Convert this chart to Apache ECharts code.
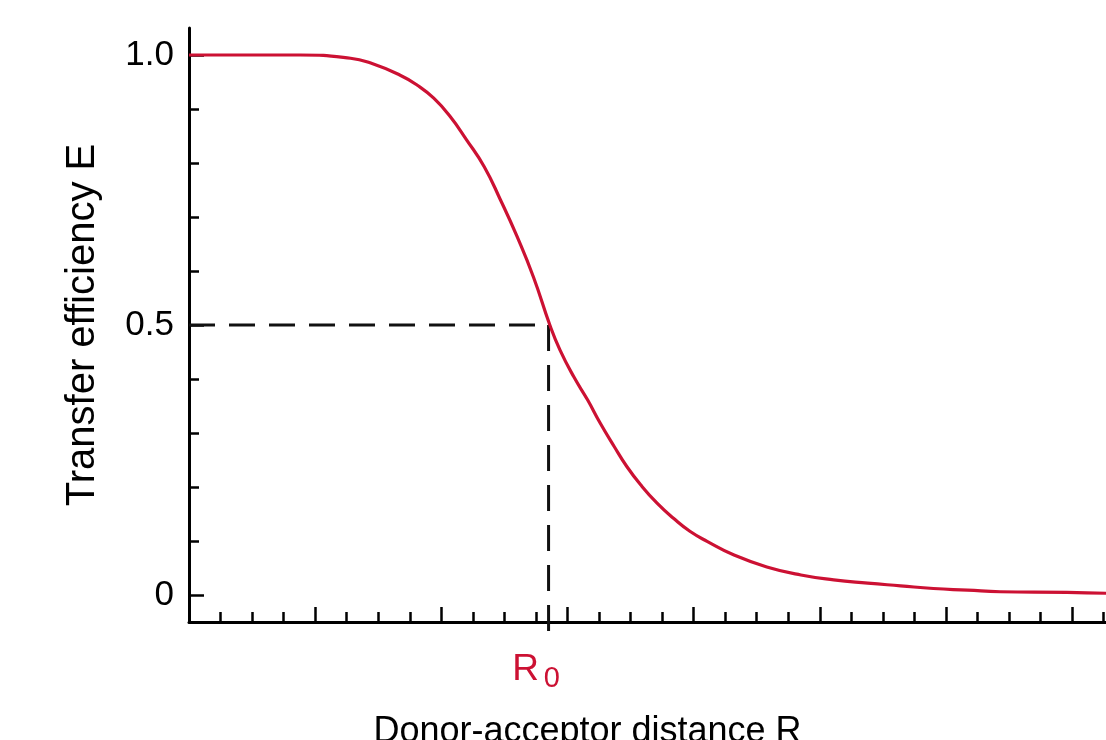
<!DOCTYPE html>
<html>
<head>
<meta charset="utf-8">
<script src="https://cdn.jsdelivr.net/npm/echarts@6/dist/echarts.min.js"></script>
<style>
html,body{margin:0;padding:0;background:#ffffff;}
#chart{width:1106px;height:740px;}
</style>
</head>
<body>
<div id="chart"></div>
<script>
// Donor-acceptor distance R (in major tick units) and transfer efficiency E
const distanceR = [0, 0.88, 1.28, 1.44, 1.67, 1.81, 1.94, 2.07, 2.20, 2.34, 2.47, 2.60, 2.73, 2.86, 2.94, 3.05, 3.16, 3.26, 3.37, 3.47, 3.58, 3.71, 3.84, 3.97, 4.11, 4.32, 4.58, 4.85, 5.11, 5.38, 5.64, 5.90, 6.17, 6.43, 6.96, 7.3];
const efficiencyE = [1.0, 1.0, 0.994, 0.985, 0.963, 0.944, 0.920, 0.886, 0.843, 0.793, 0.731, 0.664, 0.589, 0.5, 0.454, 0.404, 0.361, 0.318, 0.275, 0.238, 0.204, 0.170, 0.142, 0.118, 0.099, 0.074, 0.052, 0.037, 0.028, 0.022, 0.017, 0.012, 0.009, 0.006, 0.005, 0.003];
const R0 = 2.85;
const halfEfficiency = 0.5;
const dropBelowAxis = -0.07;

const yMajorTicks = [0, 0.5, 1.0];
const yTickLabels = ['0', '0.5', '1.0'];
const yMinorTicks = [0.1, 0.2, 0.3, 0.4, 0.6, 0.7, 0.8, 0.9];
const xMajorTicks = [1, 2, 3, 4, 5, 6, 7];
const xMinorTicks = [0.25, 0.5, 0.75, 1.25, 1.5, 1.75, 2.25, 2.5, 2.75, 3.25, 3.5, 3.75, 4.25, 4.5, 4.75, 5.25, 5.5, 5.75, 6.25, 6.5, 6.75, 7.25];

const xTitle = 'Donor-acceptor distance R';
const yTitle = 'Transfer efficiency E';

const FONT = '"Liberation Sans", Arial, Helvetica, sans-serif';
const RED = '#cc1133';

const curve = distanceR.map((r, i) => [r, efficiencyE[i]]);

const chart = echarts.init(document.getElementById('chart'), null, {renderer: 'canvas'});

const baseX = {type: 'value', min: 0, max: 7.3, position: 'bottom', splitLine: {show: false}};
const baseY = {type: 'value', min: -0.05, max: 1.05, position: 'left', splitLine: {show: false}};

chart.setOption({
  animation: false,
  backgroundColor: '#ffffff',
  grid: {left: 189, right: -4, top: 28, bottom: 118, containLabel: false, outerBoundsMode: 'none'},
  xAxis: [
    Object.assign({}, baseX, {
      axisLine: {show: true, onZero: false, lineStyle: {color: '#000', width: 3}},
      axisTick: {show: true, inside: true, length: 10, customValues: xMinorTicks, lineStyle: {color: '#000', width: 2.5}},
      axisLabel: {show: false}
    }),
    Object.assign({}, baseX, {
      axisLine: {show: false, onZero: false},
      axisTick: {show: true, inside: true, length: 15, customValues: xMajorTicks, lineStyle: {color: '#000', width: 2.5}},
      axisLabel: {
        show: true,
        customValues: [R0],
        margin: 29,
        padding: [0, 25, 0, 0],
        formatter: function () { return '{r|R}{s|0}'; },
        rich: {
          r: {fontFamily: FONT, fontSize: 37, color: RED, verticalAlign: 'top'},
          s: {fontFamily: FONT, fontSize: 29, color: RED, verticalAlign: 'top', padding: [13, 0, 0, 5]}
        }
      },
      name: xTitle,
      nameLocation: 'middle',
      nameGap: 92,
      nameTextStyle: {fontFamily: FONT, fontSize: 36, color: '#000', padding: [0, 124, 0, 0]}
    })
  ],
  yAxis: [
    Object.assign({}, baseY, {
      axisLine: {show: true, onZero: false, lineStyle: {color: '#000', width: 3}},
      axisTick: {show: true, inside: true, length: 10, customValues: yMinorTicks, lineStyle: {color: '#000', width: 2.5}},
      axisLabel: {show: false}
    }),
    Object.assign({}, baseY, {
      axisLine: {show: false, onZero: false},
      axisTick: {show: true, inside: true, length: 15, customValues: yMajorTicks, lineStyle: {color: '#000', width: 2.5}},
      axisLabel: {
        show: true,
        customValues: yMajorTicks,
        margin: 15,
        fontFamily: FONT,
        fontSize: 35,
        color: '#000',
        formatter: function (v) { return yTickLabels[yMajorTicks.indexOf(v)]; }
      },
      name: yTitle,
      nameLocation: 'middle',
      nameGap: 86,
      nameTextStyle: {fontFamily: FONT, fontSize: 40, color: '#000'}
    })
  ],
  series: [
    {
      name: 'h-guide', type: 'line', xAxisIndex: 0, yAxisIndex: 0,
      data: [[0, halfEfficiency], [R0, halfEfficiency]],
      symbol: 'none', z: 2,
      lineStyle: {color: '#111', width: 3, type: [26, 14]}
    },
    {
      name: 'v-guide', type: 'line', xAxisIndex: 0, yAxisIndex: 0,
      data: [[R0, halfEfficiency], [R0, dropBelowAxis]],
      symbol: 'none', z: 2, clip: false,
      lineStyle: {color: '#111', width: 3, type: [26, 14]}
    },
    {
      name: 'E', type: 'line', xAxisIndex: 0, yAxisIndex: 0,
      data: curve,
      symbol: 'none', smooth: true, z: 5,
      lineStyle: {color: RED, width: 3.2}
    }
  ]
});
</script>
</body>
</html>
